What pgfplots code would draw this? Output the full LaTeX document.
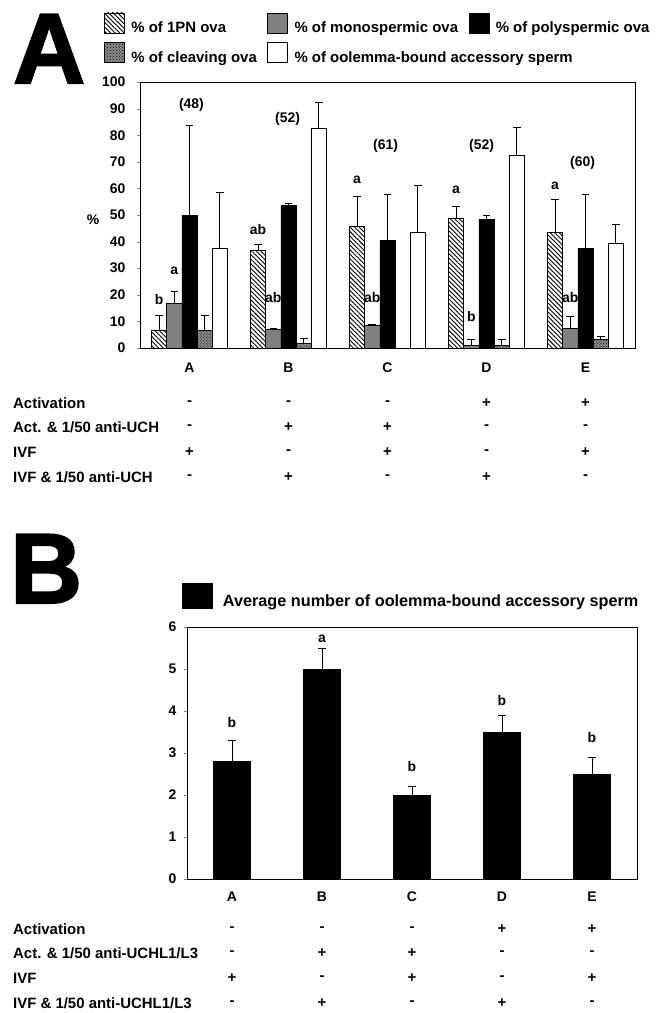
\documentclass[border=0pt]{standalone}
\usepackage{fontspec}
\setmainfont{Liberation Sans}
\newfontfamily\heavy{Liberation Sans}[BoldFeatures={FakeBold=2}]
\usepackage{pgfplots}
\pgfplotsset{compat=1.18}
\usetikzlibrary{patterns,patterns.meta}
\newcommand\fa{\fontsize{14}{16}\selectfont\bfseries}
\newcommand\fl{\fontsize{15}{17}\selectfont\bfseries}
\newcommand\ft{\fontsize{15}{17}\selectfont\bfseries}
\newcommand\fb{\fontsize{16.3}{19}\selectfont\bfseries}
\newcommand\trow[4]{% x0, step, y, list
  \foreach \s [count=\i] in {#4}{%
    \pgfmathsetmacro\xx{#1+(\i-0.5)*#2}%
    \node at (\xx bp,-#3 bp) {\s};}}
\pgfplotsset{
  common/.style={
    scale only axis, anchor=south west,
    xmin=0.5, xmax=5.5, ymin=0,
    xtick={1,...,5}, xticklabels={A,B,C,D,E},
    ytick pos=left, xtick pos=bottom,
    tick align=outside, major tick length=3bp,
    x tick style={draw=none},
    tick label style={font=\fa},
    /pgf/number format/assume math mode=true,
    axis line style={line width=0.9pt},
    every axis plot/.append style={draw=black, line width=0.7pt},
    error bars/y dir=plus, error bars/y explicit,
    error bars/error bar style={line width=0.9pt, black},
    error bars/error mark options={rotate=90, mark size=3.8bp, line width=0.9pt, black},
  },
}
\begin{document}
\begin{tikzpicture}
\useasboundingbox (0,0) rectangle (666bp,-1013bp);
\node[anchor=base west, inner sep=0, font=\heavy\fontsize{100}{100}\selectfont\bfseries] at (13bp,-83bp) {A};
\node[anchor=base west, inner sep=0, font=\heavy\fontsize{100}{100}\selectfont\bfseries] at (10bp,-603bp) {B};

\begin{axis}[common,
  at={(140bp,-348bp)}, width=495bp, height=266bp,
  ymax=100, ytick={0,10,...,100},
  ybar=0pt, bar width=15.2bp,
  yticklabel style={xshift=-8bp},
  xticklabel style={yshift=-8bp},
  legend columns=3, legend cell align=left,
  legend style={at={(-0.0727,1.262)}, anchor=north west, draw=none, fill=none,
    font=\fl, inner sep=0pt, row sep=6bp,
    /tikz/every even column/.append style={column sep=4bp},
    nodes={inner xsep=6.5bp}},
  legend image code/.code={\draw[#1] (0bp,-5bp) rectangle (20bp,15bp);},
]
\addplot[pattern={Lines[angle=-45,distance=3.2bp,line width=0.9bp]}, pattern color=black] coordinates {
  (1,6.6) +- (0,5.8) (2,36.6) +- (0,2.2) (3,45.7) +- (0,11.4) (4,48.9) +- (0,4.5) (5,43.5) +- (0,12.2)};
\addplot[fill=black!50] coordinates {
  (1,16.8) +- (0,4.3) (2,7.2) +- (0,0.2) (3,8.5) +- (0,0.2) (4,1.0) +- (0,2.4) (5,7.5) +- (0,4.3)};
\addplot[fill=black] coordinates {
  (1,49.9) +- (0,33.6) (2,53.7) +- (0,0.8) (3,40.4) +- (0,17.4) (4,48.2) +- (0,1.8) (5,37.5) +- (0,20.3)};
\addplot[fill=black!45, postaction={pattern=crosshatch dots, pattern color=black}] coordinates {
  (1,6.6) +- (0,5.8) (2,1.9) +- (0,1.8) (4,1.0) +- (0,2.4) (5,3.1) +- (0,1.2)};
\addplot[fill=white] coordinates {
  (1,37.5) +- (0,20.9) (2,82.6) +- (0,9.7) (3,43.5) +- (0,17.7) (4,72.4) +- (0,10.5) (5,39.4) +- (0,7.1)};
\legend{\% of 1PN ova, \% of monospermic ova, \% of polyspermic ova,
  \% of cleaving ova, \rlap{\% of oolemma-bound accessory sperm}}
\begin{scope}[every node/.style={font=\fa}]
\node[xshift=-30.4bp] at (axis cs:1,18.4) {b};
\node[xshift=-15.2bp] at (axis cs:1,29) {a};
\node[xshift=-30.4bp] at (axis cs:2,44.7) {ab};
\node[xshift=-15.2bp] at (axis cs:2,18.9) {ab};
\node[xshift=-30.4bp] at (axis cs:3,63.4) {a};
\node[xshift=-15.2bp] at (axis cs:3,18.9) {ab};
\node[xshift=-30.4bp] at (axis cs:4,59.3) {a};
\node[xshift=-15.2bp] at (axis cs:4,12) {b};
\node[xshift=-30.4bp] at (axis cs:5,61) {a};
\node[xshift=-15.2bp] at (axis cs:5,18.9) {ab};
\node at (axis cs:1.02,91.3) {(48)};
\node at (axis cs:1.99,86.3) {(52)};
\node at (axis cs:2.98,76) {(61)};
\node at (axis cs:3.95,76) {(52)};
\node at (axis cs:4.97,69.6) {(60)};
\end{scope}
\end{axis}
\node[font=\fa] at (93bp,-220bp) {\%};

% tables
\begin{scope}[every node/.style={font=\ft, inner sep=0pt}]
\node[anchor=west] at (13bp,-403bp) {Activation};
\node[anchor=west] at (13bp,-427bp) {Act. \& 1/50 anti-UCH};
\node[anchor=west] at (13bp,-452bp) {IVF};
\node[anchor=west] at (13bp,-477bp) {IVF \& 1/50 anti-UCH};
\trow{140}{99}{403}{-,-,-,+,+}
\trow{140}{99}{427}{-,+,+,-,-}
\trow{140}{99}{452}{+,-,+,-,+}
\trow{140}{99}{477}{-,+,-,+,-}
\node[anchor=west] at (13bp,-929bp) {Activation};
\node[anchor=west] at (13bp,-953bp) {Act. \& 1/50 anti-UCHL1/L3};
\node[anchor=west] at (13bp,-978bp) {IVF};
\node[anchor=west] at (13bp,-1003bp) {IVF \& 1/50 anti-UCHL1/L3};
\trow{187}{90}{929}{-,-,-,+,+}
\trow{187}{90}{953}{-,+,+,-,-}
\trow{187}{90}{978}{+,-,+,-,+}
\trow{187}{90}{1003}{-,+,-,+,-}
\end{scope}

\begin{axis}[common,
  at={(187bp,-879bp)}, width=450bp, height=252bp,
  ymax=6, ytick={0,1,...,6},
  ybar, bar width=37bp,
  yticklabel style={xshift=-4bp},
  xticklabel style={yshift=-6bp},
  legend style={at={(-0.011,1.175)}, anchor=north west, draw=none, fill=none,
    font=\fb, inner sep=0pt, nodes={inner xsep=10bp}},
  legend image code/.code={\draw[#1] (0bp,-7bp) rectangle (30bp,18bp);},
]
\addplot[fill=black] coordinates {
  (1,2.8) +- (0,0.5) (2,5.0) +- (0,0.5) (3,2.0) +- (0,0.2) (4,3.5) +- (0,0.4) (5,2.5) +- (0,0.4)};
\legend{Average number of oolemma-bound accessory sperm}
\begin{scope}[every node/.style={font=\fa}]
\node at (axis cs:1,3.72) {b};
\node at (axis cs:2,5.72) {a};
\node at (axis cs:3,2.67) {b};
\node at (axis cs:4,4.26) {b};
\node at (axis cs:5,3.38) {b};
\end{scope}
\end{axis}
\end{tikzpicture}
\end{document}
